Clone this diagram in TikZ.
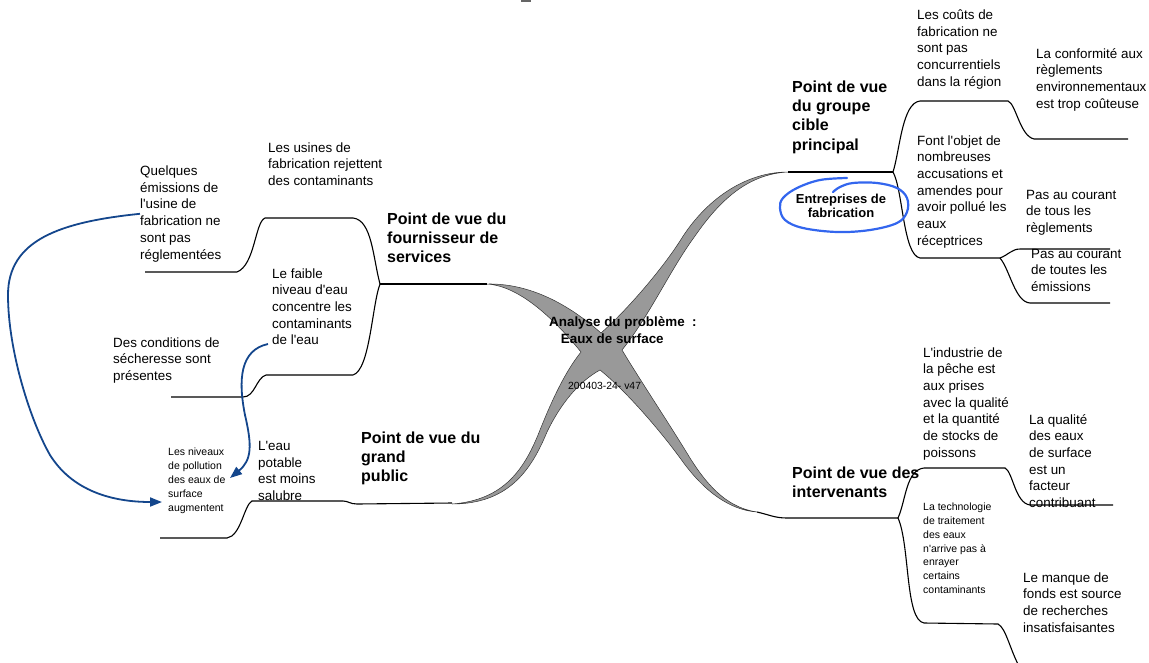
\documentclass[tikz,border=0pt]{standalone}
\usepackage{fontspec}
\setmainfont{Liberation Sans}[Ligatures=TeXOff]
\usetikzlibrary{arrows.meta}
\definecolor{xgray}{HTML}{999999}
\definecolor{linkblue}{HTML}{14468C}
\definecolor{penblue}{HTML}{3366EE}
\begin{document}
% multi-line nodes are placed by the baseline of their last line
\begin{tikzpicture}[x=1pt,y=-1pt,
  txt/.style={inner sep=0pt, anchor=base west, align=left, font=\fontsize{13.4}{16.7}\selectfont},
  smalltxt/.style={txt, font=\fontsize{10.5}{13.85}\selectfont},
  headtxt/.style={txt, font=\bfseries\fontsize{16}{19.2}\selectfont},
  titletxt/.style={txt, font=\bfseries\fontsize{13.4}{16.7}\selectfont},
  versiontxt/.style={txt, font=\fontsize{10.4}{13}\selectfont},
  enttxt/.style={inner sep=0pt, anchor=base, align=center, font=\bfseries\fontsize{13}{14}\selectfont},
  branch/.style={draw=black, line width=1.1pt},
  link/.style={draw=linkblue, line width=1.8pt, -{Triangle[length=12pt,width=9pt]}},
  pen/.style={draw=penblue, line width=2.2pt, line cap=round, line join=round}]

\useasboundingbox (0,0) rectangle (1149,662);
\clip (0,0) rectangle (1149,662);

% small mark on the top edge
\fill[black!60] (521,0) rectangle (531,1.5);

% central cross
\filldraw[fill=xgray, draw=black!80, line width=0.5pt]
  (601,333) .. controls (625,312) and (660,272) .. (680,241)
  .. controls (705,200) and (745,172) .. (788,172)
  .. controls (748,174) and (720,200) .. (695,236)
  .. controls (670,270) and (650,315) .. (622,350)
  .. controls (640,380) and (670,425) .. (690,458)
  .. controls (710,490) and (730,508) .. (757,512)
  .. controls (730,510) and (705,492) .. (683,462)
  .. controls (660,430) and (625,390) .. (600,370)
  .. controls (578,382) and (560,405) .. (547,432)
  .. controls (532,468) and (510,504) .. (452,504)
  .. controls (505,500) and (525,468) .. (540,430)
  .. controls (552,400) and (565,372) .. (581,352)
  .. controls (555,320) and (520,286) .. (487,284)
  .. controls (535,283) and (575,310) .. (601,333) -- cycle;

% left branches
\draw[branch] (487,284) -- (380,284);
\draw[branch] (380,284) .. controls (373,258) and (372,220) .. (353,218) -- (265,218)
  .. controls (255,222) and (255,265) .. (237,272) -- (145,272);
\draw[branch] (380,284) .. controls (372,305) and (370,370) .. (353,375) -- (266,375)
  .. controls (256,378) and (255,397) .. (243,397) -- (171,397);
\draw[branch] (452,503) -- (357,504) .. controls (350,504) and (348,501) .. (343,501) -- (252,501)
  .. controls (244,505) and (241,536) .. (227,538) -- (160,538);

% right branches
\draw[branch] (788,172) -- (893,172);
\draw[branch] (893,172) .. controls (900,150) and (902,103) .. (920,101) -- (1008,101)
  .. controls (1016,104) and (1020,136) .. (1034,139) -- (1128,139);
\draw[branch] (893,172) .. controls (903,190) and (903,255) .. (920,258) -- (1000,258);
\draw[branch] (1000,258) .. controls (1008,255) and (1012,249) .. (1020,249) -- (1110,249);
\draw[branch] (1000,258) .. controls (1010,270) and (1015,302) .. (1030,303) -- (1110,303);
\draw[branch] (757,512) .. controls (770,515) and (775,518) .. (787,518) -- (898,518);
\draw[branch] (898,518) .. controls (906,500) and (906,470) .. (924,468) -- (1005,468)
  .. controls (1013,472) and (1015,503) .. (1030,505) -- (1113,505);
\draw[branch] (898,518) .. controls (910,545) and (905,620) .. (924,623) -- (998,624)
  .. controls (1006,628) and (1010,650) .. (1020,668);

% centre
\node[titletxt] (titre) at (549,343.2) {Analyse du problème~~:\\\hspace*{11.7pt}Eaux de surface};
\node[versiontxt] (version) at (568,389) {200403-24- v47};

% headings
\node[headtxt] (fournisseur) at (387,262.4) {Point de vue du\\fournisseur de\\services};
\node[headtxt] (grandpublic) at (361,481.4) {Point de vue du\\grand\\public};
\node[headtxt] (groupe) at (792,150.1) {Point de vue\\du groupe\\cible\\principal};
\node[headtxt] (intervenants) at (792,497.5) {Point de vue des\\intervenants};

% left texts
\node[txt] (usines) at (268,185.4) {Les usines de\\fabrication rejettent\\des contaminants};
\node[txt] (quelques) at (140,259) {Quelques\\émissions de\\l'usine de\\fabrication ne\\sont pas\\réglementées};
\node[txt] (faible) at (272,344.8) {Le faible\\niveau d'eau\\concentre les\\contaminants\\de l'eau};
\node[txt] (secheresse) at (113,380.4) {Des conditions de\\sécheresse sont\\présentes};
\node[txt] (leau) at (258,500.6) {L'eau\\potable\\est moins\\salubre};
\node[smalltxt] (niveaux) at (168,511) {Les niveaux\\de pollution\\des eaux de\\surface\\augmentent};

% right texts
\node[enttxt] (entreprises) at (841,217) {Entreprises de\\fabrication};
\node[txt] (couts) at (917,86.3) {Les coûts de\\fabrication ne\\sont pas\\concurrentiels\\dans la région};
\node[txt] (conformite) at (1036,108.1) {La conformité aux\\règlements\\environnementaux\\est trop coûteuse};
\node[txt] (objet) at (917,245.2) {Font l'objet de\\nombreuses\\accusations et\\amendes pour\\avoir pollué les\\eaux\\réceptrices};
\node[txt] (tousregl) at (1026,232.4) {Pas au courant\\de tous les\\règlements};
\node[txt] (toutesemis) at (1031,291.4) {Pas au courant\\de toutes les\\émissions};
\node[txt] (peche) at (923,457.2) {L'industrie de\\la pêche est\\aux prises\\avec la qualité\\et la quantité\\de stocks de\\poissons};
\node[txt] (qualite) at (1029,507.5) {La qualité\\des eaux\\de surface\\est un\\facteur\\contribuant};
\node[smalltxt] (techno) at (923,593.6) {La technologie\\de traitement\\des eaux\\n'arrive pas à\\enrayer\\certains\\contaminants};
\node[txt] (manque) at (1023,632.1) {Le manque de\\fonds est source\\de recherches\\insatisfaisantes};

% hand-drawn ring round the target group
\draw[pen] plot[smooth, tension=0.6] coordinates {(847,178) (820,180) (797,188) (783,198) (780,208) (785,220) (803,228) (837,232) (870,230) (897,223) (907,212) (907,198) (897,188) (877,183) (853,183) (840,187) (833,192)};

% cause links
\coordinate (n1) at (162,502);
\coordinate (f1) at (268,344);
\coordinate (n2) at (230,478);
\draw[link] (quelques.west) .. controls (60,222) and (8,240) .. (8,295)
  .. controls (8,350) and (30,420) .. (50,455)
  .. controls (75,495) and (120,502) .. (n1);
\draw[link] (f1) .. controls (240,350) and (238,380) .. (245,415)
  .. controls (252,445) and (252,460) .. (n2);
\end{tikzpicture}
\end{document}
